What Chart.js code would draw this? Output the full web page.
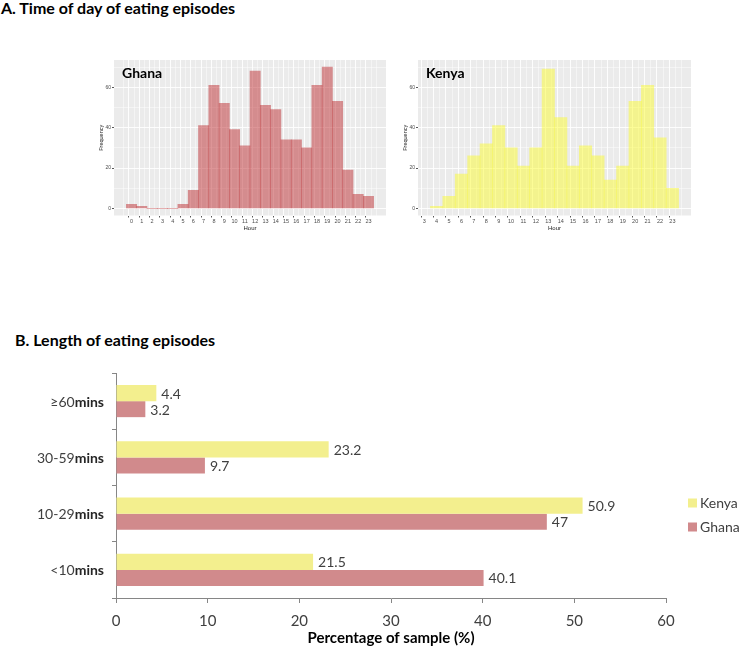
<!DOCTYPE html>
<html>
<head>
<meta charset="utf-8">
<script src="https://cdn.jsdelivr.net/npm/chart.js@4.4.1/dist/chart.umd.min.js"></script>
<style>
body { margin: 0; background: #fff; width: 743px; height: 650px; position: relative; overflow: hidden; font-family: Lato, sans-serif; }
.ttl { position: absolute; font-weight: bold; font-size: 16px; color: #000; white-space: nowrap; }
canvas { position: absolute; }
</style>
</head>
<body>
<div class="ttl" style="left:1px;top:-2px">A. Time of day of eating episodes</div>
<div class="ttl" style="left:15px;top:330px">B. Length of eating episodes</div>
<canvas id="ghana" width="300" height="190" style="left:94px;top:50px;width:300px;height:190px"></canvas>
<canvas id="kenya" width="300" height="190" style="left:398px;top:50px;width:300px;height:190px"></canvas>
<canvas id="length" width="743" height="305" style="left:0px;top:345px;width:743px;height:305px"></canvas>
<script>
/* data: time of day (histograms) */
var ghanaHours = [0,1,2,3,4,5,6,7,8,9,10,11,12,13,14,15,16,17,18,19,20,21,22,23];
var ghanaFreq  = [2,1,0,0,0,2,9,41,61,52,39,31,68,51,49,34,34,30,61,70,53,19,7,6];
var kenyaHours = [4,5,6,7,8,9,10,11,12,13,14,15,16,17,18,19,20,21,22,23];
var kenyaFreq  = [1,6,17,26,32,41,30,21,30,69,45,21,31,26,14,21,53,61,35,10];
var freqTicks  = [0,20,40,60];

/* data: length of eating episodes */
var lengthCats = ['≥60mins', '30-59mins', '10-29mins', '<10mins'];
var kenyaPct   = [4.4, 23.2, 50.9, 21.5];
var ghanaPct   = [3.2, 9.7, 47, 40.1];
var pctTicks   = [0, 10, 20, 30, 40, 50, 60];

Chart.defaults.font.family = 'Lato';

/* gray ggplot panel + country name */
var panelBg = {
  id: 'panelBg',
  beforeDraw: function(chart) {
    var a = chart.chartArea, ctx = chart.ctx;
    ctx.save();
    ctx.fillStyle = '#ebebeb';
    ctx.fillRect(a.left, a.top, a.right - a.left, a.bottom - a.top);
    ctx.restore();
  },
  afterDraw: function(chart) {
    var a = chart.chartArea, ctx = chart.ctx;
    ctx.save();
    ctx.font = 'bold 14px Lato';
    ctx.fillStyle = '#000';
    ctx.textBaseline = 'middle';
    ctx.fillText(chart.data.datasets[0].label, a.left + 8, a.top + 13);
    ctx.restore();
  }
};

function histogram(id, name, hours, freq, color, xMin, xMax, padRight) {
  var pts = [];
  for (var i = 0; i < hours.length; i++) {
    pts.push({x: hours[i], y: freq[i]});
  }
  var first = hours[0] == 0 ? 0 : hours[0] - 1;
  var last = hours[hours.length - 1];

  new Chart(document.getElementById(id), {
    type: 'bar',
    data: {
      datasets: [{
        label: name,
        data: pts,
        backgroundColor: color,
        borderWidth: 0,
        barThickness: 'flex',
        barPercentage: 1,
        categoryPercentage: 1
      }]
    },
    options: {
      responsive: false,
      animation: false,
      layout: { padding: { left: 0, right: padRight, top: 10, bottom: 0 } },
      plugins: { legend: { display: false }, tooltip: { enabled: false } },
      scales: {
        x: {
          type: 'linear',
          min: xMin,
          max: xMax,
          offset: false,
          afterBuildTicks: function(s) {
            var t = [];
            for (var v = first - 0.5; v <= last + 0.5; v += 0.5) t.push({value: v});
            s.ticks = t;
          },
          afterFit: function(s) {
            s.height = 24.5;
            s.paddingLeft = 0;
            s.paddingRight = 0;
          },
          ticks: {
            autoSkip: false,
            maxRotation: 0,
            padding: 1,
            color: '#4d4d4d',
            font: { family: 'Liberation Sans', size: 5.5 },
            callback: function(v) {
              return (v % 1 === 0 && v >= first && v <= last) ? String(v) : '';
            }
          },
          grid: {
            color: '#ffffff',
            lineWidth: function(c) { return c.tick && c.tick.value % 1 === 0 ? 0.9 : 0.45; },
            tickLength: 2,
            tickColor: function(c) { return c.tick && c.tick.value % 1 === 0 ? '#444' : 'rgba(0,0,0,0)'; }
          },
          border: { display: false },
          title: {
            display: true,
            text: 'Hour',
            color: '#222',
            font: { family: 'Liberation Sans', size: 6 },
            padding: { top: 0, bottom: 8 }
          }
        },
        y: {
          min: -3.5,
          max: 73.5,
          afterBuildTicks: function(s) {
            var t = [];
            for (var v = 0; v <= 70; v += 10) t.push({value: v});
            s.ticks = t;
          },
          afterFit: function(s) {
            s.width = 20;
            s.paddingTop = 0;
            s.paddingBottom = 0;
          },
          ticks: {
            autoSkip: false,
            padding: 1,
            color: '#4d4d4d',
            font: { family: 'Liberation Sans', size: 5 },
            callback: function(v) { return freqTicks.indexOf(v) >= 0 ? String(v) : ''; }
          },
          grid: {
            color: '#ffffff',
            lineWidth: function(c) { return c.tick && freqTicks.indexOf(c.tick.value) >= 0 ? 0.9 : 0.45; },
            tickLength: 2,
            tickColor: function(c) { return c.tick && freqTicks.indexOf(c.tick.value) >= 0 ? '#444' : 'rgba(0,0,0,0)'; }
          },
          border: { display: false },
          title: {
            display: true,
            text: 'Frequency',
            color: '#222',
            font: { family: 'Liberation Sans', size: 5.5 },
            padding: { top: 4, bottom: 0 }
          }
        }
      }
    },
    plugins: [panelBg]
  });
}

histogram('ghana', 'Ghana', ghanaHours, ghanaFreq, 'rgba(190,45,50,0.5)', -1.7, 24.7, 8);
histogram('kenya', 'Kenya', kenyaHours, kenyaFreq, 'rgba(252,252,50,0.5)', 2.5, 24.5, 7);

/* value labels, category labels and legend for the bar chart */
var barExtras = {
  id: 'barExtras',
  afterDatasetsDraw: function(chart) {
    var ctx = chart.ctx;
    ctx.save();
    ctx.font = '14px Lato';
    ctx.fillStyle = '#404040';
    ctx.textBaseline = 'middle';
    chart.data.datasets.forEach(function(ds, di) {
      chart.getDatasetMeta(di).data.forEach(function(bar, i) {
        ctx.fillText(String(ds.data[i]), bar.x + 5, bar.y + 1);
      });
    });

    // category labels: number part normal, "mins" bold
    var yScale = chart.scales.y;
    var right = 104;
    chart.data.labels.forEach(function(lab, i) {
      var y = yScale.getPixelForValue(i) + 1;
      var head = lab.replace('mins', '');
      ctx.textAlign = 'right';
      ctx.fillStyle = '#262626';
      ctx.font = 'bold 14px Lato';
      var w = ctx.measureText('mins').width;
      ctx.fillText('mins', right, y);
      ctx.font = '14px Lato';
      ctx.fillStyle = '#404040';
      ctx.fillText(head, right - w, y);
    });

    // legend
    ctx.textAlign = 'left';
    ctx.font = '14px Lato';
    chart.data.datasets.forEach(function(ds, di) {
      var cy = 158 + di * 24;
      ctx.fillStyle = ds.backgroundColor;
      ctx.fillRect(688, cy - 4.5, 9, 9);
      ctx.fillStyle = '#404040';
      ctx.fillText(ds.label, 700, cy);
    });
    ctx.restore();
  }
};

new Chart(document.getElementById('length'), {
  type: 'bar',
  data: {
    labels: lengthCats,
    datasets: [
      { label: 'Kenya', data: kenyaPct, backgroundColor: '#f3ef8e' },
      { label: 'Ghana', data: ghanaPct, backgroundColor: '#d18a8c' }
    ]
  },
  options: {
    indexAxis: 'y',
    responsive: false,
    animation: false,
    datasets: { bar: { categoryPercentage: 0.57, barPercentage: 1 } },
    layout: { padding: { left: 0, right: 77, top: 28, bottom: 0 } },
    plugins: { legend: { display: false }, tooltip: { enabled: false } },
    scales: {
      x: {
        min: 0,
        max: 60,
        afterBuildTicks: function(s) {
          s.ticks = pctTicks.map(function(v) { return {value: v}; });
        },
        afterFit: function(s) {
          s.height = 52;
          s.paddingLeft = 0;
          s.paddingRight = 0;
        },
        ticks: { color: '#404040', font: { size: 15 }, padding: 9 },
        grid: { drawOnChartArea: false, tickLength: 5, color: '#868686' },
        border: { color: '#868686' },
        title: {
          display: true,
          text: 'Percentage of sample (%)',
          color: '#000',
          font: { size: 15, weight: 'bold' },
          padding: { top: 0, bottom: 3 }
        }
      },
      y: {
        afterFit: function(s) {
          s.width = 116;
          s.paddingTop = 0;
          s.paddingBottom = 0;
        },
        ticks: { display: false },
        grid: { offset: true, drawOnChartArea: false, tickLength: 4, color: '#868686' },
        border: { color: '#868686' }
      }
    }
  },
  plugins: [barExtras]
});
</script>
</body>
</html>
